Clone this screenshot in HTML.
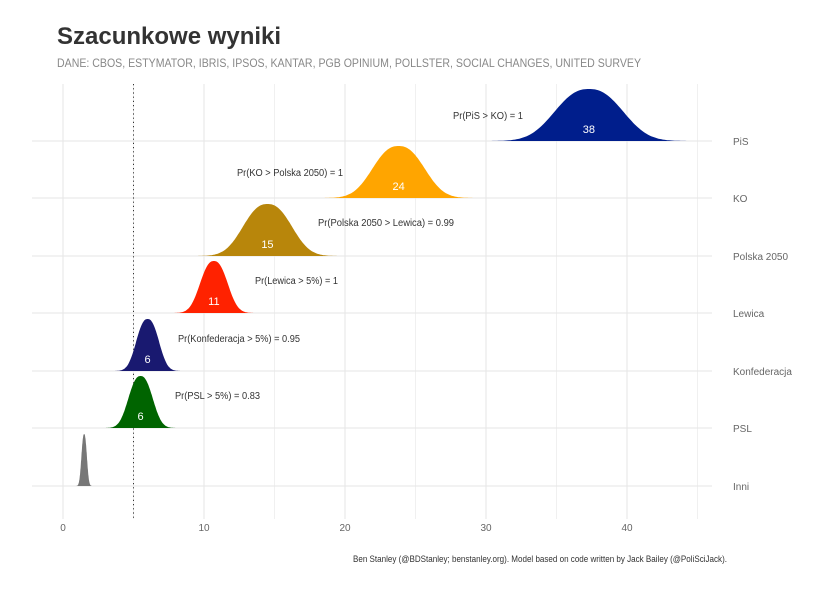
<!DOCTYPE html><html><head><meta charset="utf-8"><style>body{margin:0;background:#fff}svg{display:block}</style></head><body>
<svg id="s" width="830" height="593" xmlns="http://www.w3.org/2000/svg" font-family="Liberation Sans, sans-serif">
<rect width="830" height="593" fill="#fff"/>
<text x="57" y="44" font-size="24" font-weight="bold" fill="#333">Szacunkowe wyniki</text>
<text x="57" y="67" font-size="12" fill="#888" textLength="584" lengthAdjust="spacingAndGlyphs">DANE: CBOS, ESTYMATOR, IBRIS, IPSOS, KANTAR, PGB OPINIUM, POLLSTER, SOCIAL CHANGES, UNITED SURVEY</text>
<g id="grid" stroke="#e6e6e6" stroke-width="1"></g>
<line x1="133.5" y1="84" x2="133.5" y2="519" stroke="#333" stroke-dasharray="1.2,3"/>
<g id="dens"></g>
<g font-size="10" fill="#666">
<text x="733" y="145">PiS</text><text x="733" y="202">KO</text><text x="733" y="260">Polska 2050</text><text x="733" y="317">Lewica</text><text x="733" y="375">Konfederacja</text><text x="733" y="432">PSL</text><text x="733" y="490">Inni</text>
<text x="63" y="531" text-anchor="middle">0</text><text x="204" y="531" text-anchor="middle">10</text><text x="345" y="531" text-anchor="middle">20</text><text x="486" y="531" text-anchor="middle">30</text><text x="627" y="531" text-anchor="middle">40</text>
</g>
<g font-size="10" fill="#333">
<text x="453" y="119" textLength="70" lengthAdjust="spacingAndGlyphs">Pr(PiS &gt; KO)  =  1</text>
<text x="237" y="176" textLength="106" lengthAdjust="spacingAndGlyphs">Pr(KO &gt; Polska 2050)  =  1</text>
<text x="318" y="226" textLength="136" lengthAdjust="spacingAndGlyphs">Pr(Polska 2050 &gt; Lewica)  =  0.99</text>
<text x="255" y="284" textLength="83" lengthAdjust="spacingAndGlyphs">Pr(Lewica &gt; 5%)  =  1</text>
<text x="178" y="342" textLength="122" lengthAdjust="spacingAndGlyphs">Pr(Konfederacja &gt; 5%)  =  0.95</text>
<text x="175" y="399" textLength="85" lengthAdjust="spacingAndGlyphs">Pr(PSL &gt; 5%)  =  0.83</text>
</g>
<text x="727" y="562" font-size="9" fill="#333" text-anchor="end" textLength="374" lengthAdjust="spacingAndGlyphs">Ben Stanley (@BDStanley; benstanley.org). Model based on code written by Jack Bailey (@PoliSciJack).</text>
<script>
var X=function(v){return 63+v*14.1};
var g=document.getElementById('grid'),ns='http://www.w3.org/2000/svg';
function ln(a,b,c,d,col){var l=document.createElementNS(ns,'line');l.setAttribute('x1',a);l.setAttribute('y1',b);l.setAttribute('x2',c);l.setAttribute('y2',d);if(col)l.setAttribute('stroke',col);g.appendChild(l);}
[0,5,10,15,20,25,30,35,40,45].forEach(function(v){ln(X(v),84,X(v),519,v%10?'#f0f0f0':'#e6e6e6')});
var rows=[[141,37.3,2.1,'#001e8c','38'],[198,23.8,1.6,'#ffa500','24'],[256,14.5,1.5,'#b8860b','15'],[313,10.7,0.85,'#ff2200','11'],[371,6.0,0.7,'#191970','6'],[428,5.5,0.75,'#006400','6'],[486,1.5,0.17,'#777','']];
rows.forEach(function(r){ln(32,r[0],712,r[0]);});
var d=document.getElementById('dens');
rows.forEach(function(r){var b=r[0],m=r[1],s=r[2],p='M'+X(m-4*s)+','+b;
for(var i=0;i<=160;i++){var v=m-4*s+8*s*i/160,z=Math.abs((v-m)/s);var h=52*Math.exp(-0.5*Math.pow(z,2.4)/1.25);p+='L'+X(v).toFixed(1)+','+(b-h).toFixed(1);}
p+='Z';var e=document.createElementNS(ns,'path');e.setAttribute('d',p);e.setAttribute('fill',r[3]);d.appendChild(e);
if(r[4]){var t=document.createElementNS(ns,'text');t.setAttribute('x',X(m));t.setAttribute('y',b-8);t.setAttribute('text-anchor','middle');t.setAttribute('font-size','11');t.setAttribute('fill','#fff');t.textContent=r[4];d.appendChild(t);}});
</script>
</svg></body></html>
